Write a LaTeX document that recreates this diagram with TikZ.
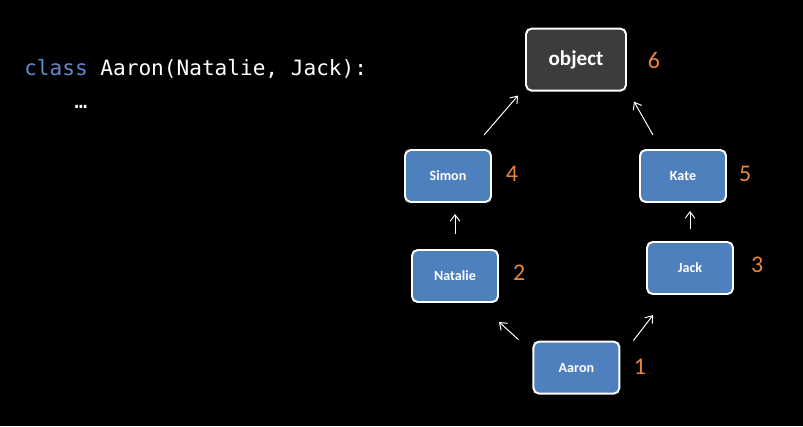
\documentclass[tikz,border=0pt]{standalone}
\usepackage{fontspec}
\setmainfont{Carlito}
\setmonofont{DejaVu Sans Mono}
\usepackage{xcolor}
\usepackage{tikz}
\usetikzlibrary{positioning,arrows.meta,calc}
\definecolor{mroblue}{RGB}{79,128,190}
\definecolor{mrodark}{RGB}{60,59,62}
\definecolor{mroorange}{RGB}{232,133,62}
\definecolor{kwblue}{RGB}{98,138,200}
\tikzset{
  cls/.style={draw=white, fill=mroblue, line width=1.4pt, rounded corners=4pt,
              minimum width=2.15cm, minimum height=1.3cm, inner sep=0pt,
              text=white, font=\fontsize{10}{12}\selectfont\bfseries},
  root/.style={cls, fill=mrodark, minimum width=2.5cm, minimum height=1.55cm,
               font=\fontsize{15}{18}\selectfont\bfseries},
  edge/.style={-{Straight Barb[length=1.6mm,width=2.4mm]}, white, line width=0.7pt},
  mro/.style={text=mroorange, font=\fontsize{17}{20}\selectfont, inner sep=0pt},
  code/.style={anchor=base west, inner sep=0pt, text=white,
               font=\ttfamily\fontsize{15}{18}\selectfont}
}

\begin{document}
\begin{tikzpicture}
    \fill[black] (0,0) rectangle (20.075,-10.65);
    \node[code] (line1) at (0.6,-1.875) {\textcolor{kwblue}{class} Aaron(Natalie, Jack):};
    \node[code] (line2) at (1.86,-2.7) {…};
    \node[root] (object) at (14.4,-1.49) {object};
    \node[cls] (simon) at (11.2,-4.4) {Simon};
    \node[cls] (kate) at (17.075,-4.4) {Kate};
    \node[cls] (natalie) at (11.375,-6.9) {Natalie};
    \node[cls] (jack) at (17.25,-6.7) {Jack};
    \node[cls] (aaron) at (14.41,-9.19) {Aaron};
    \node[mro] (n6) at (16.35,-1.52) {6};
    \node[mro] (n4) at (12.8,-4.35) {4};
    \node[mro] (n5) at (18.63,-4.35) {5};
    \node[mro] (n2) at (12.98,-6.82) {2};
    \node[mro] (n3) at (18.93,-6.62) {3};
    \node[mro] (n1) at (16.0,-9.17) {1};
    \draw[edge] ([shift={(-0.35,0.025)}]aaron.north west) -- ([yshift=-0.475cm]natalie.south east);
    \draw[edge] ([xshift=0.325cm]aaron.north east) -- ([shift={(0.175,-0.5)}]jack.south west);
    \draw[edge] ([yshift=0.375cm]natalie.north) -- ([yshift=-0.275cm]natalie.north |- simon.south);
    \draw[edge] ([yshift=0.3cm]jack.north) -- ([yshift=-0.2cm]jack.north |- kate.south);
    \draw[edge] ([shift={(-0.2,0.35)}]simon.north east) -- ([shift={(-0.175,-0.1)}]object.south west);
    \draw[edge] ([shift={(0.35,0.35)}]kate.north west) -- ([shift={(0.175,-0.25)}]object.south east);
  \end{tikzpicture}
\end{document}
